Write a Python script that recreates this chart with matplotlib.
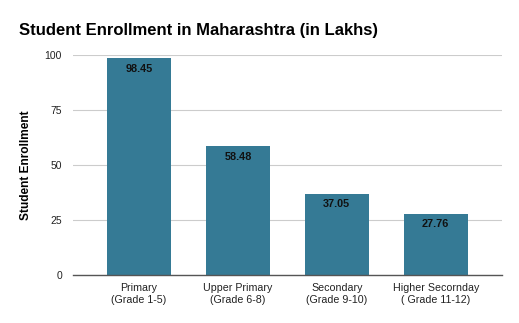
import matplotlib
matplotlib.use('Agg')
import matplotlib.pyplot as plt

plt.rcParams['font.family'] = ['Liberation Sans', 'DejaVu Sans']

categories = ['Primary\n(Grade 1-5)', 'Upper Primary\n(Grade 6-8)',
              'Secondary\n(Grade 9-10)', 'Higher Secornday\n( Grade 11-12)']
enrollment = [98.45, 58.48, 37.05, 27.76]
yticks = [0, 25, 50, 75, 100]

fig = plt.figure(figsize=(5.19, 3.23), dpi=100)
ax = fig.add_axes([0.1407, 0.1486, 0.826, 0.681])

x = range(len(categories))
bars = ax.bar(x, enrollment, width=0.646, color='#357a95', zorder=3)
for b, v in zip(bars, enrollment):
    ax.text(b.get_x() + b.get_width() / 2, v - 2.5, f'{v:.2f}',
            ha='center', va='top', fontsize=7.8, fontweight='bold', color='#111111', zorder=4)

ax.set_xlim(-0.667, 3.667)
ax.set_ylim(0, 100)
ax.set_yticks(yticks)
ax.set_xticks(list(x))
ax.set_xticklabels(categories, fontsize=7.7, color='#222222', linespacing=1.35)
ax.tick_params(axis='y', labelsize=7.5, labelcolor='#222222', length=0, pad=8)
ax.tick_params(axis='x', length=0, pad=5.5)
ax.grid(axis='y', color='#cccccc', linewidth=0.8, zorder=0)
for s in ['top', 'right', 'left']:
    ax.spines[s].set_visible(False)
ax.spines['bottom'].set_color('#555555')
ax.spines['bottom'].set_linewidth(1.0)
ax.spines['bottom'].set_zorder(5)

ax.set_ylabel('Student Enrollment', fontsize=8.6, fontweight='bold', labelpad=9)
fig.text(19 / 519, 1 - 30 / 323, 'Student Enrollment in Maharashtra (in Lakhs)',
         fontsize=12, fontweight='bold', ha='left', va='center')

fig.savefig('out.png', dpi=100)
